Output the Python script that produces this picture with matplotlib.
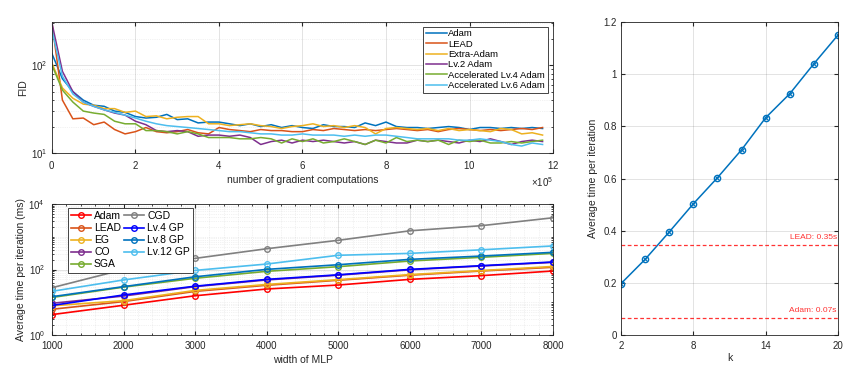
import numpy as np
import matplotlib
matplotlib.use('Agg')
import matplotlib.pyplot as plt
from matplotlib.ticker import ScalarFormatter, LogLocator, NullFormatter, AutoMinorLocator, FixedLocator

plt.rcParams['font.family'] = ['Liberation Sans', 'DejaVu Sans']
plt.rcParams['font.size'] = 7
plt.rcParams['axes.edgecolor'] = '#262626'
plt.rcParams['xtick.color'] = '#262626'
plt.rcParams['ytick.color'] = '#262626'
plt.rcParams['axes.labelcolor'] = '#262626'
plt.rcParams['mathtext.default'] = 'regular'

# ---- FID vs gradient computations (one point every 2.5e4 computations)
grad_step = 2.5e4
fid_adam = [135, 70, 50, 40, 35, 34, 30, 29, 26, 25, 25.5, 27.5,
            24, 24.5, 22, 22.5, 22.5, 21.5, 20.5, 21.5, 20, 21, 19.5, 20.5,
            19.5, 19, 21, 20, 20, 19.5, 22, 20.5, 22.5, 20, 19.5, 19.5,
            19, 19.5, 20, 19.5, 18.5, 19.5, 19.5, 19, 19.5, 19, 19.5, 19]
fid_lead = [300, 40, 24.5, 25, 21, 22.5, 18.5, 16.5, 17.5, 19.5, 17.5, 17,
            17.5, 18.5, 17, 16.5, 19.5, 18.5, 18, 17.5, 18.5, 18, 18, 17.5,
            17.5, 18.5, 18, 19, 18.5, 18, 18.5, 18, 18.5, 19, 18.5, 18,
            18.5, 17.5, 18.5, 19, 18.5, 18, 18.5, 18, 18.5, 19, 18.5, 19.5]
fid_extra = [105, 55, 42, 36, 35, 32, 32, 29, 30, 26, 26.5, 24.5,
             25.5, 26, 26, 21.5, 21.5, 20.5, 21, 21.5, 20.5, 20, 19, 20,
             20.5, 21.5, 20, 20.5, 19.5, 20.5, 19.5, 16.5, 19, 19.5, 19, 18.5,
             19, 18, 19, 18, 18.5, 18, 17.5, 19, 18.5, 16.5, 17, 16]
fid_lv2 = [300, 85, 50, 38, 34, 31, 28.5, 27, 23, 21, 18, 17.5,
           18, 17.5, 15.5, 16, 16, 15.5, 16, 15, 12.5, 13.5, 14, 13,
           14, 13.5, 14, 13.5, 13, 13.5, 12.5, 14, 13.5, 13, 13, 14,
           13.5, 14, 13.5, 13, 14, 13.5, 14.5, 13.5, 12.5, 13.5, 14, 13.5]
fid_acc4 = [100, 52, 38, 30, 28.5, 27.5, 23, 21.5, 21.5, 18, 18, 17.5,
            16.5, 17.5, 16.5, 15, 15, 15, 14.5, 14.5, 15, 14.5, 13, 14.5,
            13.5, 14.5, 13, 13.5, 14.5, 13.5, 12.5, 14, 13, 15, 13.5, 14,
            13.5, 14, 12.5, 14, 13.5, 14, 13, 13, 13.5, 13, 13.5, 14]
fid_acc6 = [250, 75, 47, 38, 34, 31, 29, 27, 25, 23, 21.5, 20.5,
            20, 19.5, 19, 18.5, 18, 17.5, 17.5, 17, 16.5, 16.5, 16, 16,
            16.5, 16, 16, 16, 15.5, 16, 15.5, 16, 16, 15.5, 15, 14.5,
            14.5, 14.5, 14.5, 14, 14, 14.5, 14, 13.5, 12.5, 12, 13, 12.5]
fid_labels = ['Adam', 'LEAD', 'Extra-Adam', 'Lv.2 Adam',
              'Accelerated Lv.4 Adam', 'Accelerated Lv.6 Adam']

# ---- time per iteration vs MLP width (ms)
widths = [1000, 2000, 3000, 4000, 5000, 6000, 7000, 8000]
t_adam = [4.2, 8.1, 15.8, 25.4, 33.6, 50, 65, 90]
t_lead = [6.1, 10.5, 21.5, 33, 47, 67, 90, 117]
t_eg = [7.8, 11.2, 23, 35, 49, 70, 93, 124]
t_co = [9.3, 15.5, 30, 48, 67, 98, 128, 165]
t_sga = [14, 29, 54, 88, 122, 182, 236, 311]
t_cgd = [27.8, 100, 219, 431, 780, 1520, 2180, 3800]
t_lv4 = [8.0, 16.7, 31, 50, 69, 101, 131, 170]
t_lv8 = [14.8, 30, 60, 101, 140, 204, 258, 335]
t_lv12 = [21.6, 48, 94, 147, 272, 311, 400, 525]

# ---- time per iteration vs k (s)
k_vals = [2, 4, 6, 8, 10, 12, 14, 16, 18, 20]
t_k = [0.197, 0.29, 0.395, 0.503, 0.603, 0.71, 0.833, 0.925, 1.04, 1.15]
lead_time = 0.347
adam_time = 0.067

m_colors = ['#0072BD', '#D95319', '#EDB120', '#7E2F8E', '#77AC30', '#4DBEEE']
grid_kw = dict(color='#262626', alpha=0.15, linewidth=0.6)
minor_kw = dict(color='#262626', alpha=0.12, linewidth=0.5, linestyle=':')

fig = plt.figure(figsize=(8.55, 3.71), dpi=100)

def style_box(ax):
    ax.tick_params(which='both', direction='in', top=True, right=True, labelsize=7)
    ax.tick_params(which='major', length=3)
    ax.tick_params(which='minor', length=1.6)
    ax.tick_params(axis='x', pad=4)
    ax.tick_params(axis='y', pad=3)
    for s in ax.spines.values():
        s.set_linewidth(0.6)
        s.set_color('#262626')

# top-left: FID
ax1 = fig.add_axes([0.0608, 0.5876, 0.586, 0.3531])
series = [fid_adam, fid_lead, fid_extra, fid_lv2, fid_acc4, fid_acc6]
for vals, c, lab in zip(series, m_colors, fid_labels):
    xs = np.arange(len(vals)) * grad_step
    ax1.plot(xs, vals, color=c, lw=1.1, label=lab)
ax1.set_yscale('log')
ax1.set_xlim(0, 1.2e6)
ax1.set_ylim(10, 310)
ax1.set_xticks([0, 2e5, 4e5, 6e5, 8e5, 10e5, 12e5])
fmt = ScalarFormatter(useMathText=True)
fmt.set_powerlimits((5, 5))
ax1.xaxis.set_major_formatter(fmt)
ax1.yaxis.set_major_locator(FixedLocator([10, 100]))
ax1.yaxis.set_minor_locator(LogLocator(base=10, subs=np.arange(2, 10)))
ax1.yaxis.set_minor_formatter(NullFormatter())
ax1.grid(True, which='major', **grid_kw)
ax1.grid(True, which='minor', axis='y', **minor_kw)
ax1.set_xlabel('number of gradient computations', fontsize=7.5, labelpad=3)
ax1.set_ylabel('FID', fontsize=7.5, labelpad=2)
style_box(ax1)
ax1.xaxis.get_offset_text().set_fontsize(7)
leg1 = ax1.legend(loc='upper right', bbox_to_anchor=(0.99, 0.965), fontsize=6.8, handlelength=2.2,
                  handletextpad=0.15, labelspacing=0.14, borderpad=0.3, borderaxespad=0.0,
                  fancybox=False, framealpha=1)
leg1.get_frame().set_edgecolor('#262626')
leg1.get_frame().set_linewidth(0.6)

# bottom-left: time vs width
ax2 = fig.add_axes([0.0608, 0.0970, 0.586, 0.3531])
b_series = [
    (t_adam, '#FF0000', 'Adam'),
    (t_lead, '#D95319', 'LEAD'),
    (t_co, '#7E2F8E', 'CO'),
    (t_eg, '#EDB120', 'EG'),
    (t_sga, '#77AC30', 'SGA'),
    (t_cgd, '#808080', 'CGD'),
    (t_lv4, '#0000FF', 'Lv.4 GP'),
    (t_lv8, '#0072BD', 'Lv.8 GP'),
    (t_lv12, '#4DBEEE', 'Lv.12 GP'),
]
handles = {}
for vals, c, lab in b_series:
    h, = ax2.plot(widths, vals, color=c, lw=1.2, marker='o', ms=4, mfc='none', mew=1.0, label=lab)
    handles[lab] = h
ax2.set_yscale('log')
ax2.set_xlim(1000, 8000)
ax2.set_ylim(1, 1e4)
ax2.set_xticks(widths)
ax2.yaxis.set_major_locator(FixedLocator([1, 100, 1e4]))
ax2.yaxis.set_minor_locator(LogLocator(base=10, subs=np.arange(1, 10), numticks=20))
ax2.yaxis.set_minor_formatter(NullFormatter())
ax2.xaxis.set_minor_locator(AutoMinorLocator(5))
ax2.grid(True, which='major', **grid_kw)
ax2.grid(True, which='minor', **minor_kw)
ax2.set_xlabel('width of MLP', fontsize=7.5, labelpad=3)
ax2.set_ylabel('Average time per iteration (ms)', fontsize=7.5, labelpad=2)
style_box(ax2)
ax2.tick_params(axis='y', pad=5)
order = ['Adam', 'LEAD', 'EG', 'CO', 'SGA', 'CGD', 'Lv.4 GP', 'Lv.8 GP', 'Lv.12 GP']
leg2 = ax2.legend([handles[o] for o in order], order, loc='upper left',
                  bbox_to_anchor=(0.032, 0.97), ncol=2, fontsize=7.5,
                  handlelength=1.9, handletextpad=0.3, columnspacing=0.3, labelspacing=0.2,
                  borderpad=0.3, borderaxespad=0.0, fancybox=False, framealpha=1)
leg2.get_frame().set_edgecolor('#262626')
leg2.get_frame().set_linewidth(0.6)

# right: time vs k
ax3 = fig.add_axes([0.7263, 0.0970, 0.2538, 0.8437])
ax3.plot(k_vals, t_k, color='#0072BD', lw=1.1, marker='o', ms=4.5, mfc='none', mew=1.0)
ax3.plot(k_vals, t_k, ls='none', color='#0072BD', marker='x', ms=3, mew=0.8)
ax3.axhline(lead_time, color='#FF3333', lw=0.9, ls=(0, (3, 2)))
ax3.axhline(adam_time, color='#FF3333', lw=0.9, ls=(0, (3, 2)))
ax3.text(19.9, lead_time + 0.012, 'LEAD: %.2fs' % 0.35, color='#FF3333', fontsize=6, ha='right', va='bottom')
ax3.text(19.9, adam_time + 0.012, 'Adam: %.2fs' % 0.07, color='#FF3333', fontsize=6, ha='right', va='bottom')
ax3.set_xlim(2, 20)
ax3.set_ylim(0, 1.2)
ax3.set_xticks([2, 8, 14, 20])
ax3.set_yticks([0, 0.2, 0.4, 0.6, 0.8, 1.0, 1.2])
ax3.set_yticklabels(['0', '0.2', '0.4', '0.6', '0.8', '1', '1.2'])
ax3.grid(True, which='major', **grid_kw)
ax3.set_xlabel('k', fontsize=7.5, labelpad=2)
ax3.set_ylabel('Average time per iteration', fontsize=7.5, labelpad=4)
style_box(ax3)

fig.savefig('out.png', dpi=100)
